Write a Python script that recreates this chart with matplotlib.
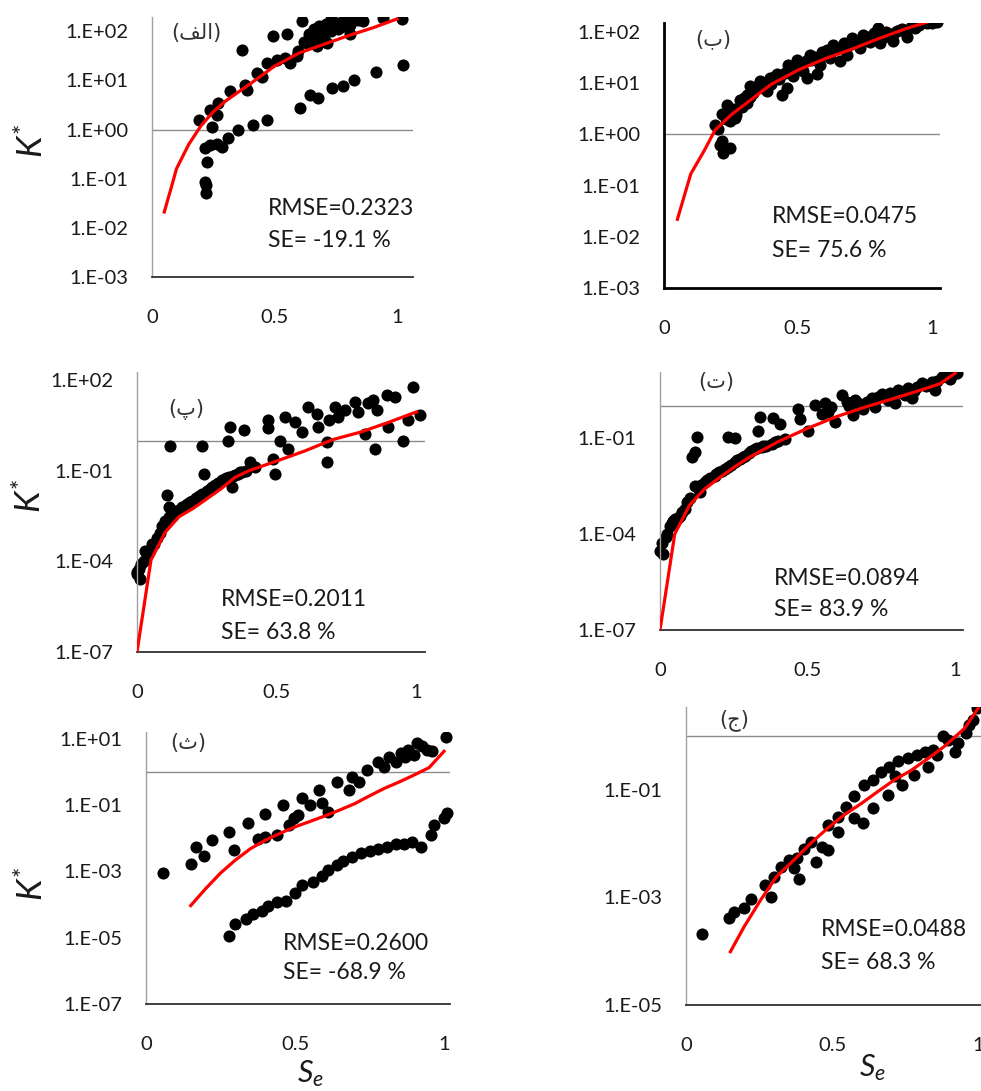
import matplotlib
matplotlib.use('Agg')
import matplotlib.pyplot as plt
from matplotlib.patches import Rectangle

plt.rcParams['font.family'] = ['Lato', 'DejaVu Sans']
plt.rcParams['mathtext.fontset'] = 'custom'
plt.rcParams['mathtext.it'] = 'Lato:italic'
plt.rcParams['mathtext.rm'] = 'Lato'

# ---------------- data ----------------
xticks = [0, 0.5, 1]
xtick_labels = ['0', '0.5', '1']

# Panel 1 (الف)
p1_x = [0.193, 0.237, 0.27, 0.264, 0.244, 0.318, 0.38, 0.387, 0.427, 0.448,
        0.468, 0.509, 0.543, 0.563, 0.597, 0.631, 0.672, 0.699, 0.727, 0.754,
        0.781, 0.808, 0.808, 0.713, 0.672, 0.59, 0.612, 0.836, 0.863, 0.944,
        1.02, 0.366, 0.495, 0.55, 0.65, 0.69, 0.74, 0.77, 0.79, 0.70,
        0.62, 0.64, 0.66, 0.68, 0.71, 0.73, 0.76, 0.80, 0.84, 0.73,
        0.216, 0.237, 0.264, 0.284, 0.311, 0.352, 0.414, 0.468, 0.604, 0.645,
        0.679, 0.733, 0.778, 0.824, 0.914, 1.026,
        0.223, 0.216, 0.22, 0.22]
p1_y = [1.6, 2.5, 3.5, 2.0, 1.15, 6.0, 8.1, 6.5, 14, 12,
        23, 26, 29, 23, 39, 58, 68, 86, 117, 148,
        160, 137, 86, 58, 49, 31, 160, 200, 160, 186,
        174, 42, 79, 86, 75, 100, 130, 120, 175, 70,
        60, 90, 110, 130, 140, 100, 110, 160, 170, 175,
        0.42, 0.49, 0.52, 0.45, 0.66, 0.98, 1.26, 1.6, 2.8, 5.1,
        4.4, 6.9, 7.6, 10.2, 15, 21,
        0.22, 0.087, 0.05, 0.074]
p1_line_x = [0.05, 0.08, 0.10, 0.15, 0.20, 0.25, 0.30, 0.40, 0.50, 0.60, 0.70, 0.80, 0.90, 1.00]
p1_line_y = [0.021, 0.07, 0.16, 0.5, 1.2, 2.3, 3.8, 8.5, 19.5, 36, 54, 81, 117, 178]

# Panel 2 (ب)
p2_x = [0.19, 0.216, 0.234, 0.246, 0.265, 0.284, 0.309, 0.334, 0.359, 0.384,
        0.421, 0.44, 0.458, 0.464, 0.495, 0.532, 0.545, 0.57, 0.583, 0.607,
        0.632, 0.657, 0.682, 0.701, 0.732, 0.757, 0.782, 0.807, 0.844, 0.882,
        0.906, 0.937, 0.981, 1.018,
        0.216, 0.222, 0.246, 0.21,
        0.62, 0.52, 0.396, 0.32, 0.25, 0.296, 0.72, 0.856, 0.744, 0.8,
        0.20, 0.23, 0.24, 0.26, 0.27, 0.29, 0.30, 0.31, 0.32, 0.34,
        0.35, 0.37, 0.39, 0.40, 0.41, 0.43, 0.45, 0.47, 0.48, 0.49,
        0.51, 0.53, 0.55, 0.56, 0.58, 0.59, 0.61, 0.64, 0.66, 0.67,
        0.69, 0.71, 0.74, 0.76, 0.77, 0.79, 0.82, 0.83, 0.86, 0.87,
        0.89, 0.92, 0.95, 0.96, 0.99, 1.00]
p2_y = [1.55, 2.5, 3.8, 1.8, 2.1, 4.8, 6.0, 6.5, 11, 6.9,
        15, 6.0, 8.1, 23, 29, 12.6, 36, 15, 23, 45,
        57, 27, 36, 76, 49, 71, 95, 62, 89, 110,
        81, 120, 150, 160,
        0.74, 0.44, 0.55, 0.63,
        31, 17, 12.6, 8.7, 2.8, 3.8, 66, 66, 89, 120,
        1.3, 2.0, 3.0, 3.2, 2.4, 3.5, 5.2, 4.2, 5.5, 7.5,
        9.0, 8.0, 11.5, 9.5, 13, 12, 16, 19, 14, 21,
        24, 27, 28, 32, 30, 40, 38, 48, 50, 60,
        55, 62, 70, 80, 65, 85, 80, 100, 95, 105,
        115, 125, 135, 150, 170, 150]
p2_line_x = [0.05, 0.10, 0.15, 0.19, 0.25, 0.30, 0.40, 0.50, 0.60, 0.70, 0.80, 0.90, 1.02]
p2_line_y = [0.022, 0.17, 0.48, 1.2, 2.4, 3.8, 9.5, 18, 30, 46, 74, 115, 180]

# Panel 3 (پ)
p3_x = [0.0, 0.0, 0.012, 0.006, 0.024, 0.042, 0.06, 0.083, 0.03, 0.054,
        0.113, 0.113, 0.125, 0.107, 0.119, 0.232, 0.238, 0.333, 0.327, 0.381,
        0.339, 0.405, 0.423, 0.375, 0.16, 0.196, 0.232, 0.268, 0.304, 0.47,
        0.47, 0.512, 0.494, 0.488, 0.541, 0.53, 0.565, 0.589, 0.613, 0.643,
        0.649, 0.679, 0.679, 0.685, 0.708, 0.72, 0.744, 0.78, 0.792, 0.815,
        0.827, 0.845, 0.851, 0.857, 0.893, 0.923, 0.899, 0.952, 0.97, 0.988,
        1.012,
        0.13, 0.14, 0.15, 0.17, 0.18, 0.21, 0.22, 0.25, 0.28, 0.29,
        0.32, 0.35, 0.36, 0.10, 0.09, 0.07,
        0.19, 0.23, 0.26, 0.27, 0.31, 0.33, 0.345, 0.37, 0.39, 0.015]
p3_y = [3.8e-5, 4.5e-5, 2.6e-5, 5.5e-5, 1.05e-4, 2e-4, 3.7e-4, 9e-4, 2.2e-4, 3.7e-4,
        2.9e-3, 6.2e-3, 4.2e-3, 0.016, 0.65, 0.65, 0.076, 2.7, 0.95, 2.2,
        0.029, 0.19, 0.13, 0.09, 6.2e-3, 0.0102, 0.017, 0.029, 0.048, 4.7,
        2.5, 1.0, 0.076, 0.25, 0.54, 6, 4.1, 1.9, 13, 7.8,
        2.8, 0.89, 0.19, 4.7, 13, 6, 10, 19, 8.9, 1.7,
        17, 22, 0.54, 10, 32, 28, 2.8, 1.0, 4.7, 60,
        6.9,
        3.5e-3, 4.5e-3, 5.2e-3, 7e-3, 8.2e-3, 0.0125, 0.0145, 0.022, 0.034, 0.04,
        0.058, 0.07, 0.08, 2.2e-3, 1.5e-3, 6e-4,
        9e-3, 0.015, 0.025, 0.027, 0.05, 0.06, 0.065, 0.09, 0.1, 8e-5]
p3_line_x = [0.0, 0.05, 0.10, 0.15, 0.20, 0.25, 0.30, 0.35, 0.40, 0.50, 0.60, 0.70, 0.80, 0.90, 1.00]
p3_line_y = [1e-7, 1.1e-4, 9e-4, 3e-3, 5.6e-3, 0.0118, 0.025, 0.06, 0.1, 0.21, 0.45, 1.07, 1.9, 4.0, 8.9]

# Panel 4 (ت)
p4_x = [0.0, 0.011, 0.006, 0.023, 0.034, 0.051, 0.068, 0.085, 0.119, 0.136,
        0.153, 0.186, 0.22, 0.254, 0.288, 0.322, 0.345, 0.379, 0.424, 0.107,
        0.119, 0.124, 0.232, 0.254, 0.333, 0.339, 0.384, 0.407, 0.469, 0.475,
        0.503, 0.525, 0.548, 0.571, 0.593, 0.616, 0.633, 0.655, 0.661, 0.689,
        0.717, 0.728, 0.751, 0.774, 0.797, 0.808, 0.842, 0.853, 0.887, 0.921,
        0.932, 0.955, 0.983, 1.006,
        0.10, 0.13, 0.17, 0.20, 0.24, 0.27, 0.30, 0.36, 0.40, 0.04,
        0.14, 0.16, 0.19, 0.21, 0.23, 0.26, 0.28, 0.31, 0.33, 0.35,
        0.39, 0.02, 0.045, 0.06, 0.075, 0.09,
        0.56, 0.58, 0.64, 0.67, 0.70, 0.74, 0.76, 0.78, 0.82, 0.83,
        0.86, 0.87, 0.90, 0.94, 0.97, 0.99]
p4_y = [3e-5, 2.3e-5, 5.4e-5, 9.8e-5, 1.8e-4, 2.9e-4, 3.7e-4, 6e-4, 3.2e-3, 2e-3,
        4.2e-3, 6.6e-3, 0.0107, 0.0178, 0.028, 0.046, 0.052, 0.066, 0.095, 0.025,
        0.036, 0.107, 0.107, 0.1, 0.17, 0.46, 0.41, 0.28, 0.83, 0.4,
        0.17, 1.07, 0.58, 0.66, 0.32, 2.2, 1.35, 0.51, 1.5, 0.83,
        1.74, 0.93, 2.4, 1.5, 1.2, 3.2, 3.6, 1.74, 5.1, 5.8,
        3.2, 8.3, 7.2, 10.5,
        1.3e-3, 2.8e-3, 5.5e-3, 8.5e-3, 0.0145, 0.022, 0.034, 0.058, 0.08, 2.2e-4,
        3.5e-3, 4.8e-3, 7.5e-3, 9.5e-3, 0.012, 0.02, 0.025, 0.04, 0.048, 0.055,
        0.075, 8e-5, 2.5e-4, 3.2e-4, 5e-4, 1.0e-3,
        1.2, 0.9, 1.0, 1.2, 1.3, 1.9, 2.0, 2.6, 2.5, 2.2,
        3.0, 3.8, 4.2, 6.0, 8.5, 9.0]
p4_line_x = [0.0, 0.05, 0.10, 0.15, 0.20, 0.25, 0.30, 0.40, 0.50, 0.60, 0.70, 0.80, 0.90, 0.95, 1.00]
p4_line_y = [1e-7, 1e-4, 7.9e-4, 2.5e-3, 5.6e-3, 0.012, 0.024, 0.076, 0.2, 0.47, 0.95, 1.8, 3.5, 5.0, 10.5]

# Panel 5 (ث)
p5_x = [0.056, 0.15, 0.167, 0.196, 0.22, 0.28, 0.296, 0.343, 0.375, 0.40,
        0.40, 0.44, 0.46, 0.48, 0.497, 0.51, 0.525, 0.55, 0.58, 0.59,
        0.61, 0.64, 0.68, 0.69, 0.716, 0.743, 0.78, 0.80, 0.816, 0.84,
        0.855, 0.87, 0.88, 0.90, 0.91, 0.927, 0.944, 0.96, 1.005,
        0.28, 0.30, 0.335, 0.36, 0.39, 0.41, 0.44, 0.47, 0.50, 0.525,
        0.56, 0.59, 0.61, 0.64, 0.66, 0.69, 0.72, 0.75, 0.78, 0.81,
        0.84, 0.866, 0.894, 0.924, 0.955, 0.966, 1.0, 1.01]
p5_y = [9.1e-4, 1.7e-3, 5.5e-3, 3.0e-3, 8.7e-3, 0.0155, 4.4e-3, 0.0295, 9.8e-3, 0.011,
        0.054, 0.0123, 0.1, 0.0245, 0.04, 0.05, 0.158, 0.1, 0.28, 0.112,
        0.063, 0.51, 0.28, 0.72, 0.51, 1.15, 2.0, 1.45, 2.9, 2.0,
        3.7, 2.9, 4.7, 3.3, 7.4, 5.9, 4.7, 4.2, 11.7,
        1.15e-5, 2.5e-5, 3.7e-5, 5.2e-5, 6.6e-5, 9.3e-5, 1.17e-4, 1.3e-4, 2.2e-4, 3.8e-4,
        4.8e-4, 7.2e-4, 1.07e-3, 1.6e-3, 2.1e-3, 2.8e-3, 3.5e-3, 4.2e-3, 4.9e-3, 5.5e-3,
        6.6e-3, 6.9e-3, 7.8e-3, 5.5e-3, 0.0123, 0.0245, 0.04, 0.056]
p5_line_x = [0.15, 0.20, 0.25, 0.30, 0.35, 0.40, 0.45, 0.50, 0.55, 0.60, 0.65, 0.70, 0.75, 0.80, 0.85, 0.90, 0.95, 1.00]
p5_line_y = [9.3e-5, 3.0e-4, 8.9e-4, 2.2e-3, 4.8e-3, 8.7e-3, 0.0141, 0.022, 0.032, 0.047, 0.071, 0.11, 0.19, 0.32, 0.5, 0.81, 1.35, 4.2]

# Panel 6 (ج)
p6_x = [0.055, 0.147, 0.164, 0.198, 0.223, 0.27, 0.29, 0.30, 0.324, 0.353,
        0.37, 0.387, 0.38, 0.404, 0.427, 0.444, 0.467, 0.485, 0.485, 0.52,
        0.52, 0.548, 0.576, 0.576, 0.605, 0.61, 0.64, 0.64, 0.668, 0.69,
        0.696, 0.714, 0.725, 0.74, 0.76, 0.78, 0.79, 0.817, 0.828, 0.845,
        0.86, 0.88, 0.897, 0.92, 0.93, 0.96, 0.97, 0.983, 0.998]
p6_y = [2.1e-4, 4.1e-4, 5.4e-4, 6.3e-4, 9.5e-4, 1.7e-3, 1.02e-3, 2.45e-3, 3.7e-3, 5.0e-3,
        3.5e-3, 2.2e-3, 5.5e-3, 8.1e-3, 0.011, 4.6e-3, 8.7e-3, 7.6e-3, 0.022, 0.032,
        0.0166, 0.049, 0.076, 0.0295, 0.024, 0.123, 0.155, 0.046, 0.22, 0.081,
        0.27, 0.18, 0.34, 0.123, 0.39, 0.19, 0.45, 0.51, 0.27, 0.56,
        0.45, 1.0, 0.85, 0.51, 0.76, 1.15, 1.62, 2.0, 3.3]
p6_line_x = [0.152, 0.198, 0.255, 0.31, 0.37, 0.427, 0.485, 0.54, 0.60, 0.656, 0.714, 0.77, 0.83, 0.885, 0.954, 1.0]
p6_line_y = [9.8e-5, 2.8e-4, 8.9e-4, 2.45e-3, 5.0e-3, 0.0102, 0.0195, 0.034, 0.056, 0.093, 0.155, 0.23, 0.39, 0.65, 1.41, 3.3]

# y ticks and labels per panel
p1_yticks = [1e-3, 1e-2, 1e-1, 1e0, 1e1, 1e2]
p1_ylabels = ['1.E-03', '1.E-02', '1.E-01', '1.E+00', '1.E+01', '1.E+02']
p2_yticks = p1_yticks
p2_ylabels = p1_ylabels
p3_yticks = [1e-7, 1e-4, 1e-1, 1e2]
p3_ylabels = ['1.E-07', '1.E-04', '1.E-01', '1.E+02']
p4_yticks = [1e-7, 1e-4, 1e-1]
p4_ylabels = ['1.E-07', '1.E-04', '1.E-01']
p5_yticks = [1e-7, 1e-5, 1e-3, 1e-1, 1e1]
p5_ylabels = ['1.E-07', '1.E-05', '1.E-03', '1.E-01', '1.E+01']
p6_yticks = [1e-5, 1e-3, 1e-1]
p6_ylabels = ['1.E-05', '1.E-03', '1.E-01']

panel_tags = ['(\uFED2\uFEDF\uFE8D)', '(\u0628)', '(\u067E)', '(\u062A)', '(\u062B)', '(\u062C)']
rmse_texts = ['RMSE=0.2323', 'RMSE=0.0475', 'RMSE=0.2011', 'RMSE=0.0894', 'RMSE=0.2600', 'RMSE=0.0488']
se_texts = ['SE= -19.1 %', 'SE= 75.6 %', 'SE= 63.8 %', 'SE= 83.9 %', 'SE= -68.9 %', 'SE= 68.3 %']

# ---------------- figure ----------------
W, H = 981, 1091
fig = plt.figure(figsize=(W / 100, H / 100), dpi=100)
fig.patch.set_facecolor('white')


def rect(left, top, right, bottom):
    return [left / W, 1 - bottom / H, (right - left) / W, (bottom - top) / H]


panels = [
    dict(r=rect(152, 17, 413, 277), xlim=1.065, ylim=(1e-3, 195), x=p1_x, y=p1_y,
         lx=p1_line_x, ly=p1_line_y, yt=p1_yticks, yl=p1_ylabels,
         tag=(0.17, 0.94), txt=(0.445, 0.265, 0.142), strong=False),
    dict(r=rect(664, 23, 940, 288), xlim=1.03, ylim=(1e-3, 150), x=p2_x, y=p2_y,
         lx=p2_line_x, ly=p2_line_y, yt=p2_yticks, yl=p2_ylabels,
         tag=(0.18, 0.94), txt=(0.39, 0.268, 0.143), strong=True),
    dict(r=rect(137, 372, 425, 652), xlim=1.03, ylim=(1e-7, 185), x=p3_x, y=p3_y,
         lx=p3_line_x, ly=p3_line_y, yt=p3_yticks, yl=p3_ylabels,
         tag=(0.17, 0.865), txt=(0.29, 0.186, 0.071), strong=False),
    dict(r=rect(660, 372, 963, 630), xlim=1.027, ylim=(1e-7, 11.5), x=p4_x, y=p4_y,
         lx=p4_line_x, ly=p4_line_y, yt=p4_yticks, yl=p4_ylabels,
         tag=(0.185, 0.96), txt=(0.376, 0.20, 0.078), strong=False),
    dict(r=rect(146, 732, 450, 1004), xlim=1.02, ylim=(1e-7, 16), x=p5_x, y=p5_y,
         lx=p5_line_x, ly=p5_line_y, yt=p5_yticks, yl=p5_ylabels,
         tag=(0.14, 0.96), txt=(0.45, 0.224, 0.114), strong=False),
    dict(r=rect(686, 707, 981, 1005), xlim=1.01, ylim=(1e-5, 3.5), x=p6_x, y=p6_y,
         lx=p6_line_x, ly=p6_line_y, yt=p6_yticks, yl=p6_ylabels,
         tag=(0.163, 0.956), txt=(0.458, 0.255, 0.144), strong=False),
]

for i, p in enumerate(panels):
    ax = fig.add_axes(p['r'])
    ax.set_yscale('log')
    ax.set_xlim(0, p['xlim'])
    ax.set_ylim(*p['ylim'])
    ax.axhline(1.0, color='#8c8c8c', lw=1.0, zorder=1)
    sc = ax.scatter(p['x'], p['y'], s=76, c='black', linewidths=0, zorder=2)
    sc.set_clip_path(Rectangle((-0.06, -0.06), 1.12, 1.06, transform=ax.transAxes))
    ax.plot(p['lx'], p['ly'], color='#ff0000', lw=2.3, zorder=3, solid_joinstyle='round')

    for s in ['top', 'right']:
        ax.spines[s].set_visible(False)
    if p['strong']:
        ax.spines['left'].set_color('black')
        ax.spines['left'].set_linewidth(2.0)
        ax.spines['bottom'].set_color('black')
        ax.spines['bottom'].set_linewidth(2.0)
    else:
        ax.spines['left'].set_color('#a0a0a0')
        ax.spines['left'].set_linewidth(1.0)
        ax.spines['bottom'].set_color('#303030')
        ax.spines['bottom'].set_linewidth(1.3)

    ax.set_xticks(xticks)
    ax.set_xticklabels(xtick_labels)
    ax.set_yticks(p['yt'])
    ax.set_yticklabels(p['yl'])
    ax.minorticks_off()
    ax.tick_params(axis='x', length=0, pad=23, labelsize=14.5, colors='#1a1a1a')
    ax.tick_params(axis='y', length=0, pad=17, labelsize=14.5, colors='#1a1a1a')
    for lab in ax.get_xticklabels() + ax.get_yticklabels():
        lab.set_clip_on(False)

    ax.text(p['tag'][0], p['tag'][1], panel_tags[i], transform=ax.transAxes,
            ha='center', va='center', fontsize=15, color='#333333',
            family=['DejaVu Sans'])
    ax.text(p['txt'][0], p['txt'][1], rmse_texts[i], transform=ax.transAxes,
            ha='left', va='center', fontsize=16.5, color='#1a1a1a')
    ax.text(p['txt'][0], p['txt'][2], se_texts[i], transform=ax.transAxes,
            ha='left', va='center', fontsize=16.5, color='#1a1a1a')

# axis titles
for (px, py) in [(32, 141), (30, 496), (32, 884)]:
    fig.text(px / W, 1 - py / H, r'$K^{*}$', rotation=90, ha='center', va='center',
             fontsize=25, color='#1a1a1a')
for (px, py) in [(310, 1074), (872, 1068)]:
    fig.text(px / W, 1 - py / H, r'$S_e$', ha='center', va='center',
             fontsize=22, color='#1a1a1a')

fig.savefig('out.png', dpi=100, facecolor='white')
